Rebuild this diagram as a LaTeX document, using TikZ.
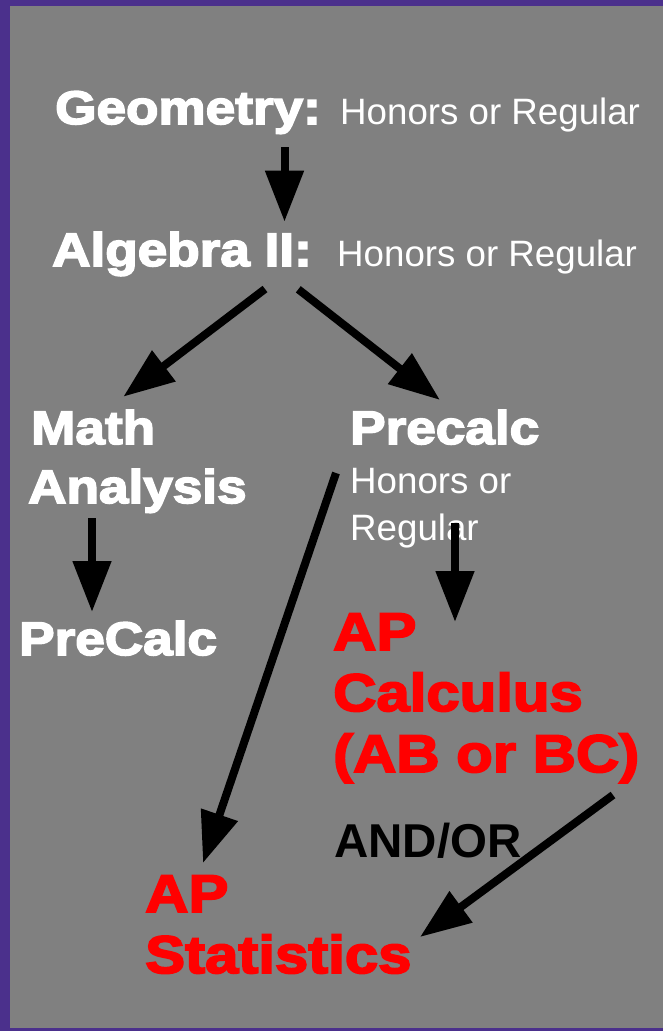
\documentclass[tikz,border=0pt]{standalone}
\usepackage{fontspec}
\setmainfont{Liberation Sans}
\newfontfamily\heavy[FakeStretch=1.13,FakeBold=3.5]{Liberation Sans Bold}
\newfontfamily\boldarial{Liberation Sans Bold}
\usetikzlibrary{arrows.meta}
\definecolor{bgpurple}{RGB}{75,48,140}
\definecolor{bggray}{RGB}{128,128,128}
\definecolor{apred}{RGB}{255,0,0}
\tikzset{
  big/.style={anchor=base west,inner sep=0pt,text=white,font=\heavy\fontsize{47}{56}\selectfont},
  bigred/.style={anchor=base west,inner sep=0pt,text=apred,font=\heavy\fontsize{53}{60}\selectfont},
  small/.style={anchor=base west,inner sep=0pt,text=white,font=\fontsize{36.7}{44}\selectfont},
  andor/.style={anchor=base west,inner sep=0pt,text=black,font=\boldarial\fontsize{47.5}{56}\selectfont},
  flow/.style={line width=8pt,-{Triangle[length=51pt,width=37pt]},black},
}
\begin{document}
\begin{tikzpicture}[x=1pt,y=-1pt]
\useasboundingbox (0,0) rectangle (663,1031);
\fill[bgpurple] (0,0) rectangle (663,1031);
\fill[bggray] (10,6) rectangle (663,1027.5);

\node[big] (geo) at (55,124) {Geometry:};
\node[small] (geoh) at (340,124) {Honors or Regular};
\node[big] (alg) at (52,266) {Algebra II:};
\node[small] (algh) at (337,266) {Honors or Regular};
\node[big] (math1) at (31,444) {Math};
\node[big] (math2) at (28,503) {Analysis};
\node[big] (pre1) at (350,444) {Precalc};
\node[small] (pre2) at (350,493) {Honors or};
\node[small] (pre3) at (350,540) {Regular};
\node[big] (pc) at (19,655) {PreCalc};
\node[bigred] (calc1) at (333,650) {AP};
\node[bigred] (calc2) at (333,711) {Calculus};
\node[bigred] (calc3) at (333,772) {(AB or BC)};
\node[andor] (ao) at (334,857) {AND/OR};
\node[bigred] (stat1) at (145,912) {AP};
\node[bigred] (stat2) at (145,973) {Statistics};

\coordinate (a1s) at (284.5,147);  \coordinate (a1e) at (284.5,221.7);
\coordinate (a2s) at (265,289);    \coordinate (a2e) at (123.3,396.7);
\coordinate (a3s) at (298.3,289.3);\coordinate (a3e) at (440,400);
\coordinate (a4s) at (92,518);     \coordinate (a4e) at (92,612);
\coordinate (a5s) at (455,523);    \coordinate (a5e) at (455,622);
\coordinate (a6s) at (336,473);    \coordinate (a6e) at (203,863);
\coordinate (a7s) at (613,795);    \coordinate (a7e) at (420,937);

\draw[flow] (a1s) -- (a1e);
\draw[flow] (a2s) -- (a2e);
\draw[flow] (a3s) -- (a3e);
\draw[flow] (a4s) -- (a4e);
\draw[flow] (a5s) -- (a5e);
\draw[flow] (a6s) -- (a6e);
\draw[flow] (a7s) -- (a7e);
\end{tikzpicture}
\end{document}
